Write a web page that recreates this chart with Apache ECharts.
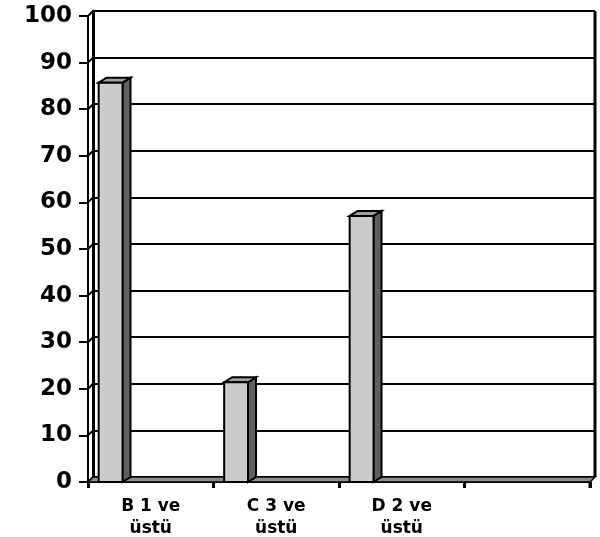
<!DOCTYPE html>
<html><head><meta charset="utf-8">
<script src="https://cdn.jsdelivr.net/npm/echarts@6/dist/echarts.min.js"></script>
<style>html,body{margin:0;padding:0;background:#fff}#c{width:600px;height:537px}</style>
</head><body><div id="c"></div>
<script>
const categories = ['B 1 ve üstü', 'C 3 ve üstü', 'D 2 ve üstü', ''];
const values = [85.7, 21.4, 57.1, null];
const yTicks = [0, 10, 20, 30, 40, 50, 60, 70, 80, 90, 100];

const WDX = 5, WDY = 5;   // wall depth
const BDX = 8, BDY = 5;   // bar depth

const chart = echarts.init(document.getElementById('c'), null, {renderer: 'canvas'});

function renderWalls(params, api) {
  const cs = params.coordSys;
  const v = api.value(1);
  const p = api.coord([0, v]);
  const xl = cs.x;
  const children = [{
    type: 'line',
    shape: {x1: xl, y1: p[1], x2: xl + WDX, y2: p[1] - WDY},
    style: {stroke: '#000', lineWidth: 2}
  }];
  if (params.dataIndex === 0) {
    const yb = p[1], xr = cs.x + cs.width;
    children.push({
      type: 'polygon',
      shape: {points: [[xl, yb], [xr, yb], [xr + WDX, yb - WDY], [xl + WDX, yb - WDY]]},
      style: {fill: '#8c8c8c', stroke: '#000', lineWidth: 1.5}
    });
    children.push({
      type: 'line',
      shape: {x1: xr + WDX, y1: yb - WDY, x2: xr + WDX, y2: cs.y - WDY},
      style: {stroke: '#000', lineWidth: 3}
    });
    children.push({
      type: 'line',
      shape: {x1: xr, y1: yb, x2: xr, y2: yb + 6},
      style: {stroke: '#000', lineWidth: 3}
    });
  }
  return {type: 'group', children: children};
}

function renderBar(params, api) {
  const v = api.value(1);
  if (v == null || isNaN(v)) return;
  const c = api.coord([api.value(0), v]);
  const base = api.coord([api.value(0), 0]);
  const band = api.size([1, 0])[0];
  const x0 = c[0] - band / 2 + band * 0.085;
  const w = band * 0.19;
  const yt = c[1], yb = base[1];
  return {
    type: 'group',
    children: [
      {type: 'polygon', shape: {points: [[x0 + w, yt], [x0 + w + BDX, yt - BDY], [x0 + w + BDX, yb - BDY], [x0 + w, yb]]},
       style: {fill: '#606060', stroke: '#000', lineWidth: 2, lineJoin: 'miter'}},
      {type: 'polygon', shape: {points: [[x0, yt], [x0 + BDX, yt - BDY], [x0 + w + BDX, yt - BDY], [x0 + w, yt]]},
       style: {fill: '#a0a0a0', stroke: '#000', lineWidth: 2, lineJoin: 'miter'}},
      {type: 'rect', shape: {x: x0, y: yt, width: w, height: yb - yt},
       style: {fill: '#cbcbcb', stroke: '#000', lineWidth: 2}}
    ]
  };
}

const option = {
  animation: false,
  backgroundColor: '#fff',
  grid: [
    {left: 88, right: 10, top: 16, bottom: 55, outerBoundsMode: 'none', containLabel: false},
    {left: 88 + WDX, right: 10 - WDX, top: 16 - WDY, bottom: 55 + WDY, outerBoundsMode: 'none', containLabel: false}
  ],
  xAxis: [
    {type: 'category', gridIndex: 0, data: categories,
     axisLine: {show: true, lineStyle: {color: '#000', width: 2}},
     axisTick: {show: true, length: 6, lineStyle: {color: '#000', width: 3}},
     axisLabel: {color: '#000', fontFamily: 'DejaVu Sans', fontWeight: 'bold', fontSize: 17, lineHeight: 22, margin: 14,
                 formatter: s => s.replace(' üstü', '\nüstü')},
     splitLine: {show: false}},
    {type: 'category', gridIndex: 1, data: categories, show: false}
  ],
  yAxis: [
    {type: 'value', gridIndex: 0, min: 0, max: 100, interval: 10,
     axisLine: {show: true, lineStyle: {color: '#000', width: 2}},
     axisTick: {show: true, length: 9, lineStyle: {color: '#000', width: 2}},
     axisLabel: {color: '#000', fontFamily: 'DejaVu Sans', fontWeight: 'bold', fontSize: 23, margin: 16},
     splitLine: {show: false}},
    {type: 'value', gridIndex: 1, min: 0, max: 100, interval: 10,
     axisLine: {show: true, lineStyle: {color: '#000', width: 3}},
     axisTick: {show: false}, axisLabel: {show: false},
     splitLine: {show: true, lineStyle: {color: '#000', width: 2}}}
  ],
  series: [
    {type: 'custom', xAxisIndex: 0, yAxisIndex: 0, renderItem: renderWalls, silent: true,
     data: yTicks.map(v => [0, v]), z: 1},
    {type: 'custom', xAxisIndex: 0, yAxisIndex: 0, renderItem: renderBar,
     data: values.map((v, i) => [i, v]), z: 3}
  ]
};
chart.setOption(option);
</script>
</body></html>
